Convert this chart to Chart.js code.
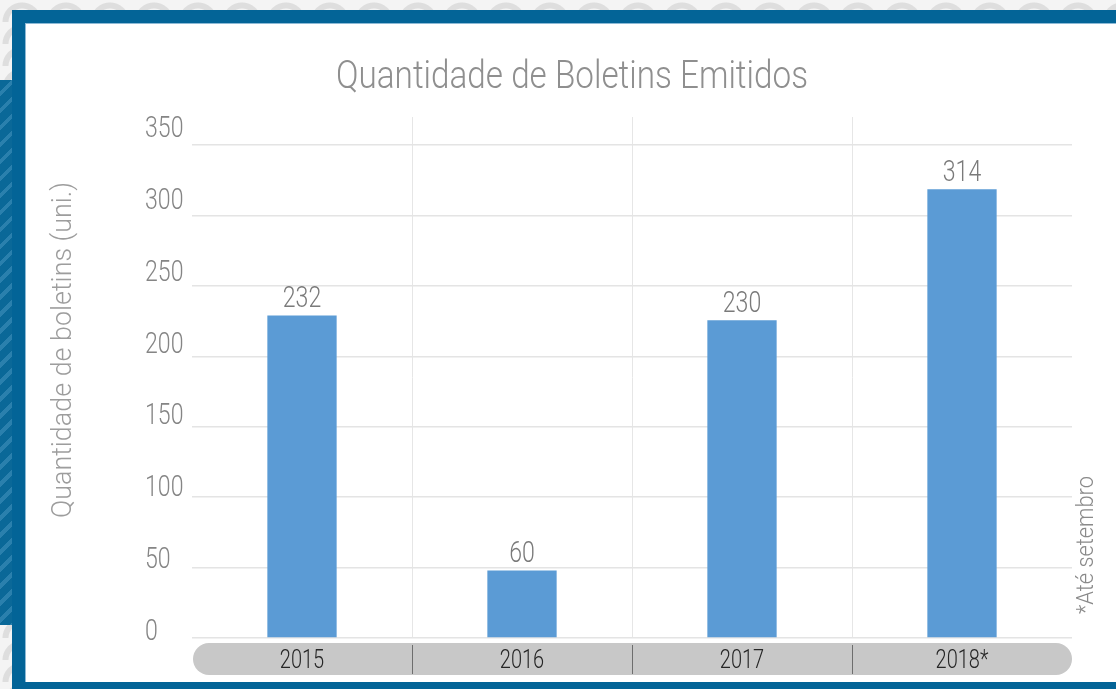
<!DOCTYPE html>
<html>
<head>
<meta charset="utf-8">
<script src="https://cdn.jsdelivr.net/npm/chart.js@4.4.0/dist/chart.umd.min.js"></script>
<style>
  html, body { margin: 0; padding: 0; }
  body {
    width: 1116px; height: 689px; position: relative; overflow: hidden;
    background-color: #f4f4f4;
    background-image: radial-gradient(circle at 50% 100%, transparent 13px, #dedede 14px, #dedede 19px, transparent 20px);
    background-size: 44px 22px;
  }
  #strip {
    position: absolute; left: 0; top: 80px; width: 12px; height: 545px;
    background-color: #0a6898;
    background-image: repeating-linear-gradient(135deg, #0a6898 0px, #0a6898 8px, #2a80ad 8px, #2a80ad 12px);
  }
  #frame { position: absolute; left: 12px; top: 10px; right: 0; bottom: 0; background: #036497; }
  #panel {
    position: absolute; left: 25px; top: 23px; right: 0; bottom: 7px; background: #fff;
    border-top: 1px solid #8dbad6; border-left: 1px solid #8dbad6; box-sizing: border-box;
  }
  #wrap { position: absolute; left: 0; top: 0; width: 1116px; height: 689px; }
</style>
</head>
<body>
<div id="strip"></div>
<div id="frame"></div>
<div id="panel"></div>
<div id="wrap"><canvas id="grafico" width="1116" height="689"></canvas></div>
<script>
  // dados
  const categorias = ['2015', '2016', '2017', '2018*'];
  const alturasBarras = [229, 48, 225.5, 318.5];   // altura desenhada das barras
  const rotulosValores = ['232', '60', '230', '314']; // texto escrito acima das barras
  const ticksY = [0, 50, 100, 150, 200, 250, 300, 350];

  const titulo = 'Quantidade de Boletins Emitidos';
  const tituloEixoY = 'Quantidade de boletins (uni.)';
  const nota = '*Até setembro';

  const fonte = "Roboto, 'DejaVu Sans Condensed', sans-serif";
  const ESTREITO = 0.77; // a fonte original é condensada

  // escreve texto comprimido na horizontal (largura alvo opcional)
  function escrever(ctx, texto, x, y, tam, cor, alinhar, largura, girar) {
    ctx.save();
    ctx.font = '300 ' + tam + 'px ' + fonte;
    ctx.fillStyle = cor;
    ctx.textBaseline = 'alphabetic';
    ctx.textAlign = alinhar;
    const sx = largura ? largura / ctx.measureText(texto).width : ESTREITO;
    ctx.translate(x, y);
    if (girar) ctx.rotate(-Math.PI / 2);
    ctx.scale(sx, 1);
    ctx.fillText(texto, 0, 0);
    ctx.restore();
  }

  const decoracao = {
    id: 'decoracao',
    beforeDraw(chart) {
      const ctx = chart.ctx;
      const area = chart.chartArea;
      const x = chart.scales.x;
      const limites = [];
      for (let i = 0; i < categorias.length - 1; i++) {
        limites.push((x.getPixelForValue(i) + x.getPixelForValue(i + 1)) / 2);
      }
      ctx.save();
      // linhas verticais entre categorias
      ctx.strokeStyle = '#e6e6e6';
      ctx.lineWidth = 1;
      limites.forEach(function(px) {
        ctx.beginPath();
        ctx.moveTo(Math.round(px) + 0.5, 117);
        ctx.lineTo(Math.round(px) + 0.5, area.bottom);
        ctx.stroke();
      });
      // faixa cinza arredondada do eixo x
      ctx.fillStyle = '#c8c8c8';
      ctx.beginPath();
      ctx.roundRect(area.left + 1, area.bottom + 5, area.right - area.left - 1, 32, 16);
      ctx.fill();
      ctx.strokeStyle = '#6e6e6e';
      limites.forEach(function(px) {
        ctx.beginPath();
        ctx.moveTo(Math.round(px) + 0.5, area.bottom + 7);
        ctx.lineTo(Math.round(px) + 0.5, area.bottom + 36);
        ctx.stroke();
      });
      ctx.restore();
    },
    afterDatasetsDraw(chart) {
      const ctx = chart.ctx;
      const meta = chart.getDatasetMeta(0);
      meta.data.forEach(function(bar, i) {
        escrever(ctx, rotulosValores[i], bar.x, bar.y - 8, 30, '#7a7a7a', 'center');
      });
    },
    afterDraw(chart) {
      const ctx = chart.ctx;
      const area = chart.chartArea;
      const x = chart.scales.x;
      const y = chart.scales.y;
      // rótulos do eixo x
      x.ticks.forEach(function(t, i) {
        escrever(ctx, categorias[t.value], x.getPixelForTick(i), area.bottom + 30, 26, '#262626', 'center');
      });
      // rótulos do eixo y
      y.ticks.forEach(function(t, i) {
        const py = y.getPixelForTick(i) + 2 - 10 * (t.value / 350);
        escrever(ctx, String(t.value), 145, py, 30, '#858585', 'left');
      });
      escrever(ctx, titulo, 572, 88, 39, '#8f8f8f', 'center', 472);
      escrever(ctx, tituloEixoY, 71, 350, 28, '#9d9d9d', 'center', 336, true);
      escrever(ctx, nota, 1093, 545, 23, '#8a8a8a', 'center', 138, true);
    }
  };

  const ctx = document.getElementById('grafico').getContext('2d');
  const grafico = new Chart(ctx, {
    type: 'bar',
    data: {
      labels: categorias,
      datasets: [{
        data: alturasBarras,
        backgroundColor: '#5b9bd5',
        borderWidth: 0,
        barPercentage: 0.315,
        categoryPercentage: 1
      }]
    },
    options: {
      responsive: false,
      animation: false,
      layout: { padding: { left: 145, right: 44, top: 145, bottom: 15 } },
      plugins: {
        legend: { display: false },
        tooltip: { enabled: false },
        title: { display: false }
      },
      scales: {
        x: {
          grid: { display: false },
          border: { display: false },
          ticks: { display: false },
          afterFit(scale) { scale.height = 36; }
        },
        y: {
          min: 0,
          max: 350,
          grid: { color: '#e4e4e4', lineWidth: 1.5, drawTicks: false },
          border: { display: false },
          ticks: { display: false },
          afterBuildTicks(scale) { scale.ticks = ticksY.map(v => ({ value: v })); },
          afterFit(scale) { scale.width = 47; }
        }
      }
    },
    plugins: [decoracao]
  });
</script>
</body>
</html>
